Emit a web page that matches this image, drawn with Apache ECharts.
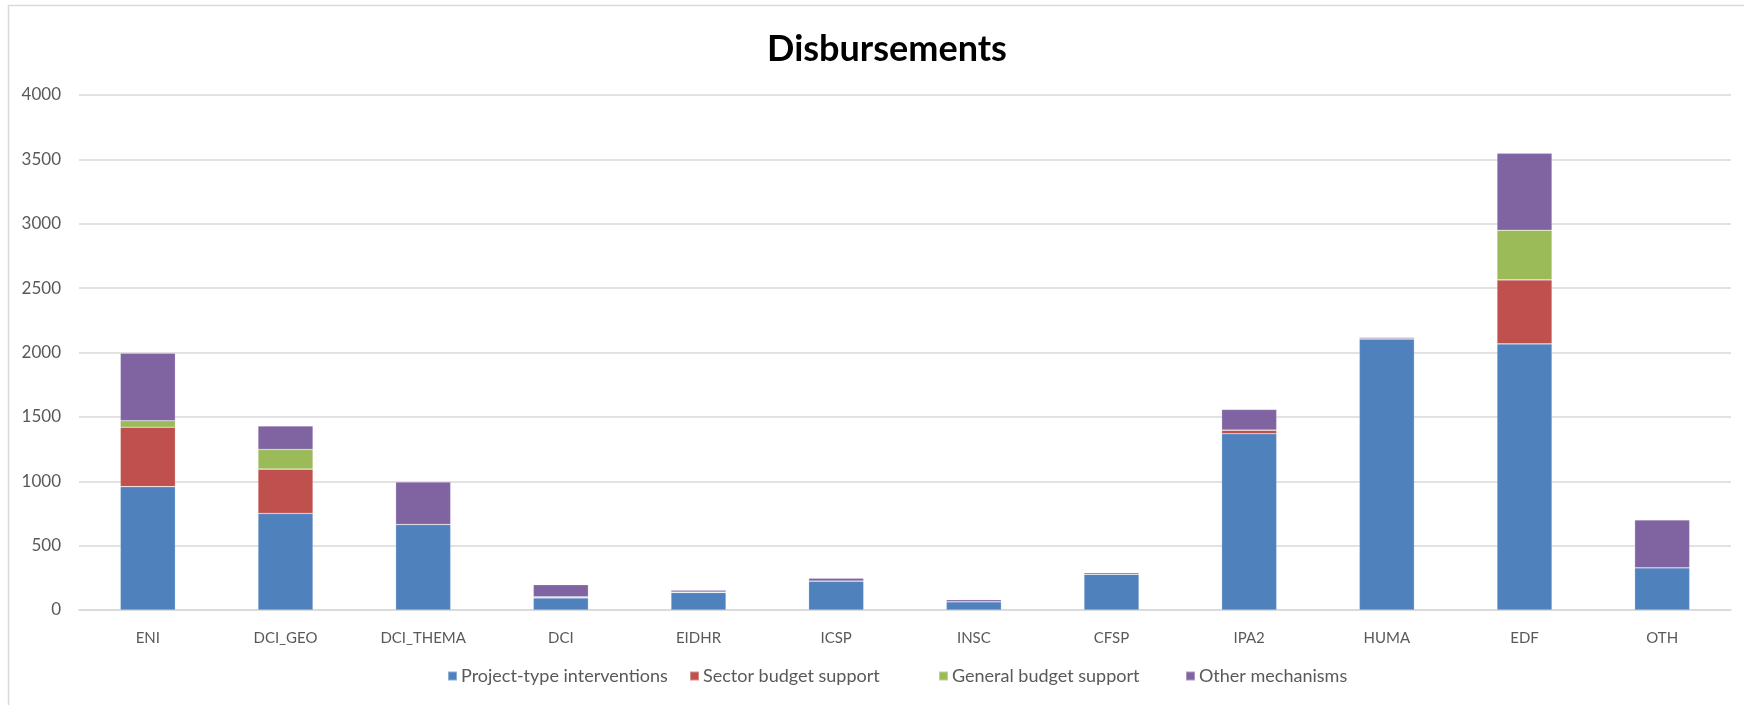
<!DOCTYPE html>
<html>
<head>
<meta charset="utf-8">
<script src="https://cdn.jsdelivr.net/npm/echarts@6/dist/echarts.min.js"></script>
<style>
html,body{margin:0;padding:0;background:#fff;}
#chart{width:1744px;height:705px;}
</style>
</head>
<body>
<div id="chart"></div>
<script>
const categories = ['ENI','DCI_GEO','DCI_THEMA','DCI','EIDHR','ICSP','INSC','CFSP','IPA2','HUMA','EDF','OTH'];
const seriesNames = ['Project-type interventions','Sector budget support','General budget support','Other mechanisms'];
const projectType = [958, 750, 664, 94, 136, 225, 64, 278, 1369, 2106, 2067, 328];
const sectorBudget = [462, 344, 0, 8, 3, 0, 0, 0, 28, 0, 497, 0];
const generalBudget = [50, 153, 0, 0, 0, 0, 0, 0, 0, 0, 386, 0];
const otherMech = [525, 183, 330, 95, 14, 22, 16, 11, 161, 11, 597, 372];
const yTicks = [0, 500, 1000, 1500, 2000, 2500, 3000, 3500, 4000];

const FONT = 'Lato, "Open Sans", sans-serif';
const chart = echarts.init(document.getElementById('chart'), null, {renderer:'canvas'});
function mk(name, data, color){
  return {name, type:'bar', stack:'total', data, barWidth:'40%',
    itemStyle:{color, borderColor:'rgba(255,255,255,0.35)', borderWidth:0.6},
    emphasis:{disabled:true}};
}
const legendLefts = [442, 684, 933, 1180];
const legends = seriesNames.map(function(n, i){
  return {bottom:15, left:legendLefts[i], itemWidth:9, itemHeight:9, icon:'rect',
    textStyle:{fontFamily:FONT, fontSize:18, color:'#595959', padding:[0,0,0,-1]}, data:[n]};
});
chart.setOption({
  animation:false,
  backgroundColor:'#fff',
  title:{text:'Disbursements', left:882, textAlign:'center', top:26,
    textStyle:{fontFamily:FONT, fontWeight:'bold', fontSize:36, color:'#000'}},
  graphic:[{type:'rect', shape:{x:8.5,y:5.5,width:1760,height:720},
    style:{fill:'none', stroke:'#d9d9d9', lineWidth:1.5}, silent:true}],
  legend:legends,
  grid:{left:79, right:13, top:95, bottom:95, containLabel:false},
  xAxis:{type:'category', data:categories,
    axisLine:{lineStyle:{color:'#d9d9d9', width:1.5}}, axisTick:{show:false},
    axisLabel:{fontFamily:FONT, fontSize:15, color:'#595959', margin:21}},
  yAxis:{type:'value', min:yTicks[0], max:yTicks[yTicks.length-1], interval:yTicks[1]-yTicks[0],
    axisLine:{show:false}, axisTick:{show:false},
    splitLine:{lineStyle:{color:'#d9d9d9', width:1.5}},
    axisLabel:{fontFamily:FONT, fontSize:17, color:'#595959', margin:18,
      formatter:function(v){return String(v);}}},
  series:[
    mk(seriesNames[0], projectType, '#4F81BD'),
    mk(seriesNames[1], sectorBudget, '#C0504D'),
    mk(seriesNames[2], generalBudget, '#9BBB59'),
    mk(seriesNames[3], otherMech, '#8064A2')
  ]
});
</script>
</body>
</html>
